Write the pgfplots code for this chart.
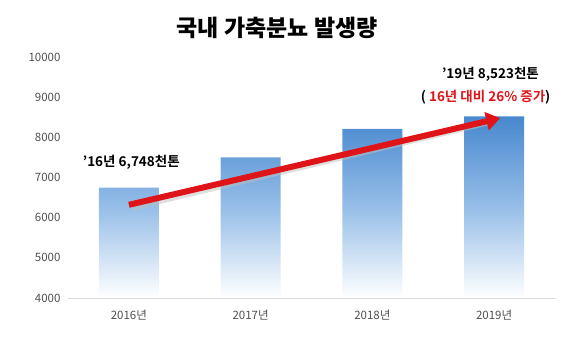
\documentclass[border=0pt]{standalone}
\usepackage{pgfplots}
\pgfplotsset{compat=1.18}
\usepackage{fontspec}
\setmainfont{Noto Sans CJK KR}[BoldFont={Noto Sans CJK KR Bold}]
\newfontfamily\krblack{Noto Sans CJK KR Black}
\usetikzlibrary{arrows.meta}
\definecolor{barblue}{RGB}{72,136,206}
\definecolor{barmid}{RGB}{150,190,232}
\definecolor{arrred}{RGB}{222,20,24}
\definecolor{tickgray}{RGB}{80,80,80}
\begin{document}
\begin{tikzpicture}[x=1pt,y=1pt]
\useasboundingbox (-68,-58) rectangle (512,298);
\begin{axis}[
  at={(0,0)}, anchor=south west,
  width=487pt, height=241pt, scale only axis,
  xmin=-0.5, xmax=3.5, ymin=4000, ymax=10000,
  xtick=data, xticklabels={2016년,2017년,2018년,2019년},
  ytick={4000,5000,...,10000},
  scaled y ticks=false,
  axis x line*=bottom, axis y line*=left,
  x axis line style={draw=black!15, line width=0.8pt},
  y axis line style={draw=none},
  xtick style={draw=none},
  ytick style={draw=none},
  /pgf/number format/assume math mode=true,
  /pgf/number format/1000 sep={},
  tick label style={font=\fontsize{11.5}{14}\selectfont, text=tickgray},
  yticklabel style={xshift=-4pt},
  xticklabel style={yshift=-8pt},
  clip=false,
]
\addplot[ybar, bar width=60pt, draw=none, top color=barblue, bottom color=white, middle color=barmid, bar shift=0pt]
  coordinates {(0,6748) (1,7500) (2,8210) (3,8523)};
\addplot[draw=black!25, line width=7pt, opacity=0.5, shorten >=6pt] coordinates {(0.02,6260) (3.0,8420)};
\addplot[draw=arrred, line width=6pt, -{Triangle[length=14pt,width=18pt]}] coordinates {(0,6320) (3.05,8480)};
\node[font=\fontsize{13.5}{16}\selectfont\bfseries] at (axis cs:0.02,7370) {'16년 6,748천톤};
\node[font=\fontsize{13.5}{16}\selectfont\bfseries] at (axis cs:2.97,9560) {'19년 8,523천톤};
\node[font=\fontsize{13.5}{16}\selectfont\bfseries] at (axis cs:2.93,9010) {( \textcolor{arrred}{16년 대비 26\% 증가})};
\end{axis}
\node[font=\fontsize{23}{25}\selectfont\krblack] at (209,270) {국내 가축분뇨 발생량};
\end{tikzpicture}
\end{document}
